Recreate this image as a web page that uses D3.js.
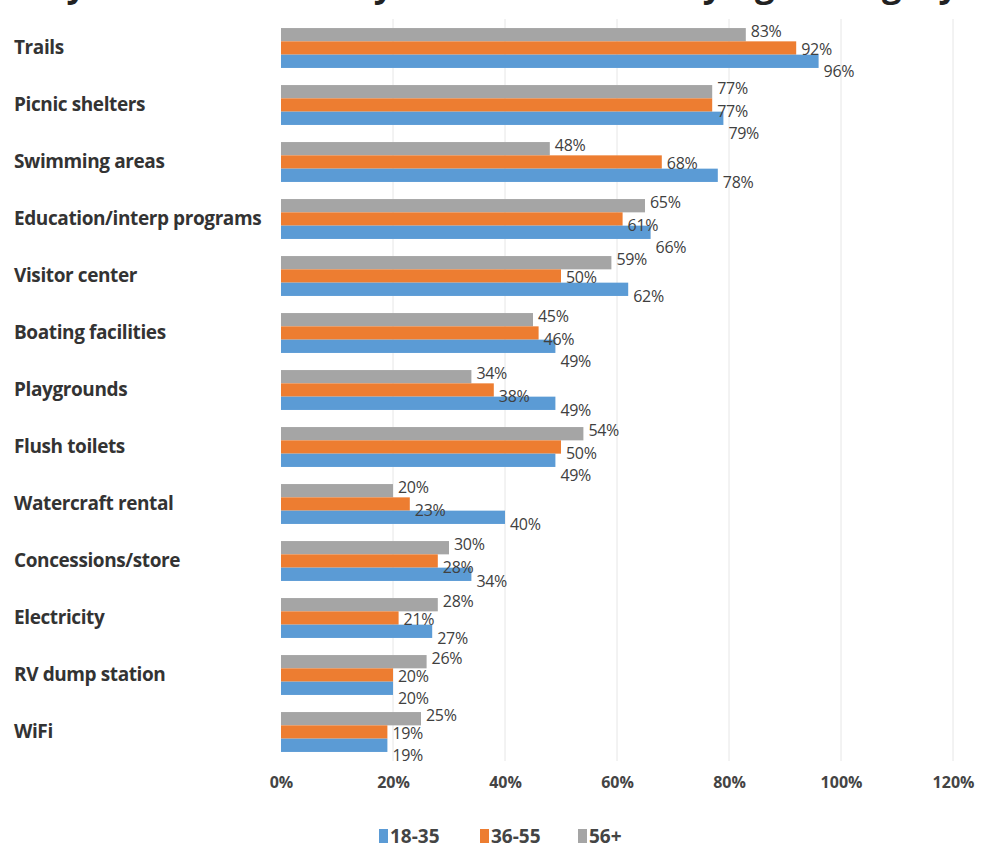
<!DOCTYPE html>
<html>
<head>
<meta charset="utf-8">
<script src="https://cdn.jsdelivr.net/npm/d3@7"></script>
<style>
  html, body { margin: 0; padding: 0; background: #fff; }
  svg { display: block; }
  text { font-family: "Open Sans", "Noto Sans", sans-serif; }
</style>
</head>
<body>
<div id="chart"></div>
<script>
const titleText = "Very/Somewhat Likely to Use Facilities by Age Category";
const categories = [
  "Trails", "Picnic shelters", "Swimming areas", "Education/interp programs",
  "Visitor center", "Boating facilities", "Playgrounds", "Flush toilets",
  "Watercraft rental", "Concessions/store", "Electricity", "RV dump station", "WiFi"
];
const seriesNames = ["56+", "36-55", "18-35"];
const age56plus = [83, 77, 48, 65, 59, 45, 34, 54, 20, 30, 28, 26, 25];
const age36to55 = [92, 77, 68, 61, 50, 46, 38, 50, 23, 28, 21, 20, 19];
const age18to35 = [96, 79, 78, 66, 62, 49, 49, 49, 40, 34, 27, 20, 19];
const tickValues = [0, 20, 40, 60, 80, 100, 120];
const legendOrder = ["18-35", "36-55", "56+"];

const W = 984, H = 863;
const colors = { "18-35": "#5B9BD5", "36-55": "#ED7D31", "56+": "#A5A5A5" };
const valuesBy = { "56+": age56plus, "36-55": age36to55, "18-35": age18to35 };

const svg = d3.select("#chart").append("svg").attr("width", W).attr("height", H);

const x = d3.scaleLinear().domain([0, 120]).range([281, 953]);
const y = d3.scaleBand().domain(categories).range([19.5, 760.5]).paddingInner(0.3).paddingOuter(0.15);
const ySub = d3.scaleBand().domain(seriesNames).range([0, y.bandwidth()]);

// title (cut off at the top edge, as in the reference)
svg.append("text")
  .attr("x", 8).attr("y", -3)
  .attr("font-size", 34).attr("font-weight", "bold").attr("fill", "#222")
  .attr("textLength", 950).attr("lengthAdjust", "spacingAndGlyphs")
  .text(titleText);

// gridlines
svg.append("g").selectAll("line").data(tickValues.filter(d => d > 0)).join("line")
  .attr("x1", d => x(d)).attr("x2", d => x(d))
  .attr("y1", 19).attr("y2", 761)
  .attr("stroke", "#e6e6e6").attr("stroke-width", 1);

// x axis tick labels
const xAxis = d3.axisBottom(x).tickValues(tickValues).tickFormat(d => d + "%").tickSize(0).tickPadding(0);
const gx = svg.append("g").attr("transform", "translate(0,777)").call(xAxis);
gx.select(".domain").remove();
gx.selectAll("text").attr("font-size", 16).attr("font-weight", "bold").attr("fill", "#444")
  .style("font-family", "'Open Sans', sans-serif").attr("dy", "0.71em");

// category labels
svg.append("g").selectAll("text").data(categories).join("text")
  .attr("x", 14).attr("y", d => y(d) + y.bandwidth() / 2 - 1)
  .attr("dy", "0.35em")
  .attr("font-size", 19).attr("font-weight", "bold").attr("fill", "#333")
  .attr("letter-spacing", -0.4)
  .text(d => d);

// bars
seriesNames.forEach(s => {
  const data = categories.map((c, i) => ({ c, v: valuesBy[s][i] }));
  svg.append("g").selectAll("rect").data(data).join("rect")
    .attr("x", x(0)).attr("y", d => y(d.c) + ySub(s))
    .attr("width", d => x(d.v) - x(0)).attr("height", ySub.bandwidth())
    .attr("fill", colors[s]);
});

// value labels, staggered like the spreadsheet's label placement to avoid overlaps
const labelShift = { "56+": -3, "36-55": 1, "18-35": 7 };
const labelSize = 16;
const minGap = labelSize * 1.4;
const labelLayer = svg.append("g");
categories.forEach((c, i) => {
  let prev = null;
  seriesNames.forEach(s => {
    const v = valuesBy[s][i];
    const t = labelLayer.append("text")
      .attr("x", x(v) + 5)
      .attr("font-size", labelSize).attr("fill", "#404040")
      .attr("letter-spacing", -0.3)
      .text(v + "%");
    const w = t.node().getComputedTextLength();
    let cy = y(c) + ySub(s) + ySub.bandwidth() / 2 + labelShift[s];
    const x0 = x(v) + 5, x1 = x0 + w;
    if (prev && x0 < prev.x1 && x1 > prev.x0 && cy - prev.cy < minGap) {
      cy = prev.cy + minGap;
    }
    t.attr("y", cy).attr("dy", "0.35em");
    prev = { x0, x1, cy };
  });
});

// legend
const legend = svg.append("g").attr("transform", "translate(379,836)");
let lx = 0;
const legendGaps = [101, 98, 0];
legendOrder.forEach((s, i) => {
  legend.append("rect").attr("x", lx).attr("y", -7).attr("width", 9).attr("height", 14).attr("fill", colors[s]);
  legend.append("text").attr("x", lx + 11).attr("y", 0).attr("dy", "0.35em")
    .attr("font-size", 19).attr("font-weight", "bold").attr("fill", "#444").text(s);
  lx += legendGaps[i];
});
</script>
</body>
</html>
